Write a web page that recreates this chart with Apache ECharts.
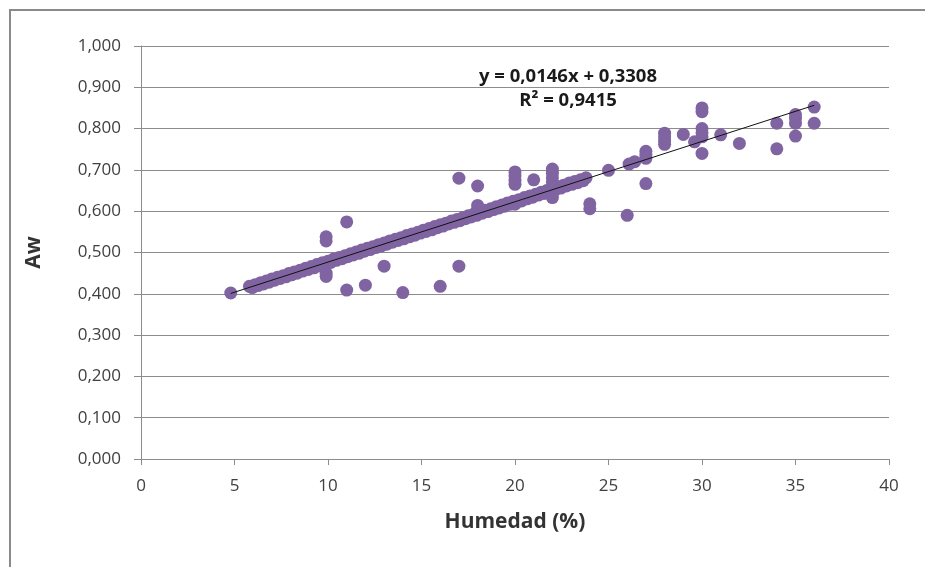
<!DOCTYPE html>
<html>
<head>
<meta charset="utf-8">
<script src="https://cdn.jsdelivr.net/npm/echarts@6/dist/echarts.min.js"></script>
<style>
    html, body { margin: 0; padding: 0; background: #fff; }
    #chart { width: 925px; height: 567px; }
</style>
</head>
<body>
<div id="chart"></div>
<script>
// banda densa de puntos sobre la recta (dos filas intercaladas)
var bandaHumedad = [5.8, 6.1, 6.4, 6.7, 7.0, 7.3, 7.6, 7.9, 8.2, 8.5, 8.8, 9.1, 9.4, 9.7, 10.0,
    10.3, 10.6, 10.9, 11.2, 11.5, 11.8, 12.1, 12.4, 12.7, 13.0, 13.3, 13.6, 13.9, 14.2, 14.5,
    14.8, 15.1, 15.4, 15.7, 16.0, 16.3, 16.6, 16.9, 17.2, 17.5, 17.8, 18.1, 18.4, 18.7, 19.0,
    19.3, 19.6, 19.9, 20.2, 20.5, 20.8, 21.1, 21.4, 21.7, 22.0, 22.3, 22.6, 22.9, 23.2, 23.5, 23.8];
var bandaAw = [0.418, 0.422, 0.427, 0.431, 0.436, 0.440, 0.444, 0.449, 0.453, 0.457, 0.462, 0.466, 0.471, 0.475, 0.479,
    0.484, 0.488, 0.492, 0.497, 0.501, 0.506, 0.510, 0.514, 0.519, 0.523, 0.528, 0.532, 0.536, 0.541, 0.545,
    0.549, 0.554, 0.558, 0.563, 0.567, 0.571, 0.576, 0.580, 0.584, 0.589, 0.593, 0.598, 0.602, 0.606, 0.611,
    0.615, 0.620, 0.624, 0.628, 0.633, 0.637, 0.641, 0.646, 0.650, 0.655, 0.659, 0.663, 0.668, 0.672, 0.676, 0.681];
var banda2Humedad = [5.95, 6.25, 6.55, 6.85, 7.15, 7.45, 7.75, 8.05, 8.35, 8.65, 8.95, 9.25, 9.55, 9.85, 10.15,
    10.45, 10.75, 11.05, 11.35, 11.65, 11.95, 12.25, 12.55, 12.85, 13.15, 13.45, 13.75, 14.05, 14.35, 14.65,
    14.95, 15.25, 15.55, 15.85, 16.15, 16.45, 16.75, 17.05, 17.35, 17.65, 17.95, 18.25, 18.55, 18.85, 19.15,
    19.45, 19.75, 20.05, 20.35, 20.65, 20.95, 21.25, 21.55, 21.85, 22.15, 22.45, 22.75, 23.05, 23.35, 23.65];
var banda2Aw = [0.415, 0.420, 0.424, 0.428, 0.433, 0.437, 0.441, 0.446, 0.450, 0.455, 0.459, 0.463, 0.468, 0.472, 0.476,
    0.481, 0.485, 0.490, 0.494, 0.498, 0.503, 0.507, 0.512, 0.516, 0.520, 0.525, 0.529, 0.533, 0.538, 0.542,
    0.547, 0.551, 0.555, 0.560, 0.564, 0.569, 0.573, 0.577, 0.582, 0.586, 0.590, 0.595, 0.599, 0.604, 0.608,
    0.612, 0.617, 0.621, 0.625, 0.630, 0.634, 0.639, 0.643, 0.647, 0.652, 0.656, 0.661, 0.665, 0.669, 0.674];

// puntos dispersos
var otrosHumedad = [4.8, 9.9, 9.9, 9.9, 9.9, 11, 11, 12, 13, 14, 16, 17, 17, 18, 18, 18,
    20, 20, 20, 20, 20, 21, 22, 22, 22, 22, 22, 22, 24, 24, 25, 26, 26.1, 26.4,
    27, 27, 27, 27, 28, 28, 28, 28, 29, 29.6, 30, 30, 30, 30, 30, 30, 31, 32,
    34, 34, 35, 35, 35, 35, 36, 36];
var otrosAw = [0.402, 0.538, 0.528, 0.450, 0.442, 0.574, 0.409, 0.421, 0.467, 0.403, 0.418, 0.680, 0.467, 0.661, 0.614, 0.604,
    0.695, 0.686, 0.675, 0.665, 0.617, 0.676, 0.702, 0.692, 0.681, 0.670, 0.633, 0.642, 0.618, 0.606, 0.699, 0.590, 0.714, 0.720,
    0.745, 0.736, 0.728, 0.667, 0.789, 0.780, 0.770, 0.762, 0.786, 0.768, 0.850, 0.841, 0.800, 0.790, 0.780, 0.740, 0.785, 0.764,
    0.813, 0.751, 0.834, 0.825, 0.813, 0.782, 0.852, 0.813];

var xTicks = ['0', '5', '10', '15', '20', '25', '30', '35', '40'];
var yTicks = ['0,000', '0,100', '0,200', '0,300', '0,400', '0,500', '0,600', '0,700', '0,800', '0,900', '1,000'];

// linea de tendencia (Excel)
var pendiente = 0.0146;
var intercepto = 0.3308;
var tendX = [4.8, 36];

var puntos = [];
for (var i = 0; i < bandaHumedad.length; i++) {
    puntos.push([bandaHumedad[i], bandaAw[i]]);
}
for (var i = 0; i < banda2Humedad.length; i++) {
    puntos.push([banda2Humedad[i], banda2Aw[i]]);
}
for (var i = 0; i < otrosHumedad.length; i++) {
    puntos.push([otrosHumedad[i], otrosAw[i]]);
}
var tendencia = [];
for (var i = 0; i < tendX.length; i++) {
    tendencia.push([tendX[i], pendiente * tendX[i] + intercepto]);
}

var fuente = 'Open Sans';
var gris = '#8c8c8c';

var myChart = echarts.init(document.getElementById('chart'));
myChart.setOption({
    animation: false,
    backgroundColor: '#fff',
    grid: { left: 141, right: 36, top: 46, bottom: 108 },
    xAxis: {
        type: 'value',
        min: 0,
        max: 40,
        interval: 5,
        name: 'Humedad (%)',
        nameLocation: 'middle',
        nameGap: 53,
        nameTextStyle: { fontFamily: fuente, fontSize: 21, fontWeight: 'bold', color: '#333' },
        axisLine: { show: true, lineStyle: { color: gris, width: 1 } },
        axisTick: { show: true, length: 6, lineStyle: { color: gris } },
        axisLabel: {
            margin: 19,
            fontFamily: fuente,
            fontSize: 17,
            color: '#404040',
            formatter: function (v) { return xTicks[Math.round(v / 5)]; }
        },
        splitLine: { show: false }
    },
    yAxis: {
        type: 'value',
        min: 0,
        max: 1,
        interval: 0.1,
        name: 'Aw',
        nameLocation: 'middle',
        nameGap: 96,
        nameTextStyle: { fontFamily: fuente, fontSize: 21, fontWeight: 'bold', color: '#333' },
        axisLine: { show: true, lineStyle: { color: gris, width: 1 } },
        axisTick: { show: true, length: 7, lineStyle: { color: gris } },
        axisLabel: {
            margin: 20,
            fontFamily: fuente,
            fontSize: 17,
            color: '#404040',
            formatter: function (v) { return yTicks[Math.round(v * 10)]; }
        },
        splitLine: { show: true, lineStyle: { color: gris, width: 1 } }
    },
    graphic: [
        {
            type: 'rect',
            shape: { x: 10, y: 10, width: 1000, height: 1000 },
            style: { fill: 'none', stroke: '#8a8a8a', lineWidth: 2 },
            silent: true
        },
        {
            type: 'text',
            x: 568,
            y: 67,
            style: { text: 'y = 0,0146x + 0,3308', align: 'center', fontFamily: fuente, fontSize: 18.5, fontWeight: 'bold', fill: '#1a1a1a' },
            z: 10
        },
        {
            type: 'text',
            x: 568,
            y: 91,
            style: { text: 'R² = 0,9415', align: 'center', fontFamily: fuente, fontSize: 18.5, fontWeight: 'bold', fill: '#1a1a1a' },
            z: 10
        }
    ],
    series: [
        {
            type: 'scatter',
            data: puntos,
            symbol: 'circle',
            symbolSize: 13,
            itemStyle: { color: '#8064A2', opacity: 1 },
            z: 2
        },
        {
            type: 'line',
            data: tendencia,
            symbol: 'none',
            lineStyle: { color: '#111', width: 1 },
            z: 3
        }
    ]
});
</script>
</body>
</html>
